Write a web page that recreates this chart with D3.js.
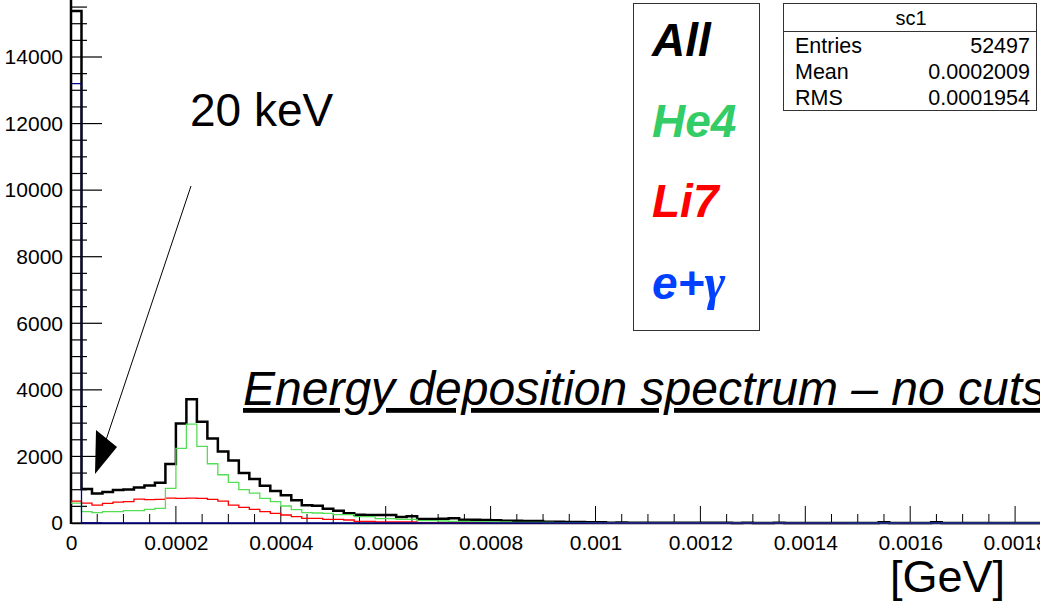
<!DOCTYPE html>
<html><head><meta charset="utf-8">
<script src="https://cdn.jsdelivr.net/npm/d3@7"></script>
<style>body{margin:0;background:#fff}svg{display:block}</style>
</head><body>
<svg id="c" width="1040" height="605"></svg>
<script>
// ---- data (bins of 0.00002 GeV from 0 to 0.002) ----
const binWidth = 0.00002;
const allCounts = [15380,1020,890,930,990,1010,1070,1130,1210,1770,
 2990,3720,3040,2540,2150,1880,1500,1320,1120,960,
 830,680,530,520,430,370,290,250,240,240,
 240,180,200,120,120,130,140,100,100,90,
 80,70,70,60,60,40,40,30,30,20,
 20,10,15,10,10,10,5,5,10,5,
 5,5,5,0,5,0,0,5,0,0,
 0,0,0,0,0,0,0,20,0,0,
 0,0,20,0,0,0,0,0,0,0,
 0,0,0,0,0,0,0,0,0,0];
const he4Counts = [600,340,310,340,340,370,370,410,440,1040,
 2240,2970,2300,1780,1450,1220,1000,900,740,640,
 510,400,310,300,290,250,250,190,190,130,
 130,110,110,70,70,60,50,50,40,40,
 30,30,20,20,20,15,10,10,10,10,
 5,5,5,5,5,5,5,5,5,5,
 5,5,5,5,5,5,5,5,5,5,
 5,5,5,5,0,0,0,0,0,5,
 0,0,0,0,0,0,0,0,0,0,
 0,0,0,0,0,0,0,0,0,0];
const li7Counts = [660,600,540,590,630,640,720,700,710,750,
 740,750,740,710,660,540,470,410,340,290,
 240,190,140,140,110,110,90,50,50,30,
 30,30,30,10,10,10,10,10,10,10,
 10,10,10,10,10,5,5,5,5,0,
 0,0,0,0,0,0,0,0,0,0,
 0,0,0,0,0,0,0,0,0,0,
 0,0,0,0,0,0,0,0,0,0,
 0,0,0,0,0,0,0,0,0,0,
 0,0,0,0,0,0,0,0,0,0];
const egCounts = [13200,0,0,0,0,0,0,0,0,0,
 0,0,0,0,0,0,0,0,0,0,
 0,0,0,0,0,0,0,0,0,0,
 0,0,0,0,0,0,0,0,0,0,
 0,0,0,0,0,0,0,0,0,0,
 0,0,0,0,0,0,0,0,0,0,
 0,0,0,0,0,0,0,0,0,0,
 0,0,0,0,0,0,0,0,0,0,
 0,0,0,0,0,0,0,0,0,0,
 0,0,0,0,0,0,0,0,0,0];
const xTickValues = [0,0.0002,0.0004,0.0006,0.0008,0.001,0.0012,0.0014,0.0016,0.0018];
const xTickLabels = ["0","0.0002","0.0004","0.0006","0.0008","0.001","0.0012","0.0014","0.0016","0.0018"];
const yTickValues = [0,2000,4000,6000,8000,10000,12000,14000,16000];
const legendLabels = ["All","He4","Li7","e+"];
const statsTitle = "sc1";
const statsRows = [["Entries","52497"],["Mean","0.0002009"],["RMS","0.0001954"]];

// ---- layout ----
const svg = d3.select("#c");
const x = d3.scaleLinear().domain([0,0.002]).range([71,1120]);
const y = d3.scaleLinear().domain([0,14000]).range([523,57]);
const font = "'Liberation Sans', Arial, sans-serif";

// x axis
const xAxis = d3.axisBottom(x).tickValues(xTickValues)
  .tickFormat((d,i)=>xTickLabels[i]).tickSize(0).tickPadding(7);
const gx = svg.append("g").attr("transform","translate(0,523)").call(xAxis);
gx.select(".domain").attr("stroke","#000").attr("stroke-width",1.5);
gx.selectAll("text").attr("font-family",font).attr("font-size",21).attr("fill","#000").attr("dy","0.95em");
const xMinor = d3.range(0,40).map(i=>i*0.00005);
svg.append("g").selectAll("line").data(xMinor).join("line")
  .attr("x1",d=>x(d)).attr("x2",d=>x(d))
  .attr("y1",523).attr("y2",(d,i)=> i%4===0 ? 506 : 514)
  .attr("stroke","#000").attr("stroke-width",1);

// y axis
const yAxis = d3.axisLeft(y).tickValues(yTickValues).tickSize(0).tickPadding(8).tickFormat(d3.format("d"));
const gy = svg.append("g").attr("transform","translate(71,0)").call(yAxis);
gy.select(".domain").remove();
gy.selectAll("text").attr("font-family",font).attr("font-size",21).attr("fill","#000");
svg.append("line").attr("x1",71).attr("x2",71).attr("y1",-5).attr("y2",524)
  .attr("stroke","#000").attr("stroke-width",2.5);
const yMinor = d3.range(0,33).map(i=>i*500);
svg.append("g").selectAll("line").data(yMinor).join("line")
  .attr("y1",d=>y(d)).attr("y2",d=>y(d))
  .attr("x1",71).attr("x2",(d,i)=> i%4===0 ? 102 : 87)
  .attr("stroke","#000").attr("stroke-width",1.2);

// histograms
function stepPath(counts){
  const pts = counts.map((v,i)=>[i*binWidth, v]);
  pts.push([counts.length*binWidth, counts[counts.length-1]]);
  return d3.line().x(d=>x(d[0])).y(d=>y(d[1])).curve(d3.curveStepAfter)(pts);
}
svg.append("path").attr("d",stepPath(allCounts)).attr("fill","none").attr("stroke","#000").attr("stroke-width",2.5);
svg.append("path").attr("d",stepPath(li7Counts)).attr("fill","none").attr("stroke","#ff0000").attr("stroke-width",1.3);
svg.append("path").attr("d",stepPath(he4Counts)).attr("fill","none").attr("stroke","#55dd55").attr("stroke-width",1.3);
svg.append("path").attr("d",stepPath(egCounts)).attr("fill","none").attr("stroke","#00008b").attr("stroke-width",1.3);

// annotation "20 keV" with arrow
svg.append("text").attr("x",190).attr("y",126).attr("font-family",font).attr("font-size",46).text("20 keV");
svg.append("line").attr("x1",191).attr("y1",186).attr("x2",106).attr("y2",440).attr("stroke","#000").attr("stroke-width",1);
svg.append("path").attr("d","M96,430 L117,447 L95,474 Z").attr("fill","#000");

// title
svg.append("text").attr("x",243).attr("y",405).attr("font-family",font).attr("font-size",48)
  .attr("font-style","italic").attr("text-decoration","underline").text("Energy deposition spectrum \u2013 no cuts");

// legend box
svg.append("rect").attr("x",633.5).attr("y",3.5).attr("width",126).attr("height",327).attr("fill","#fff").attr("stroke","#333").attr("stroke-width",1);
const legColors = ["#000000","#33cc66","#ff0000","#0040ff"];
const legY = [56,137,217,299];
legendLabels.forEach((t,i)=>{
  const tx = svg.append("text").attr("x",652).attr("y",legY[i]).attr("font-family",font)
   .attr("font-size",46).attr("font-weight","bold").attr("font-style","italic").attr("fill",legColors[i]).text(t);
  if(i===3) tx.append("tspan").attr("font-family","'Liberation Serif', serif").attr("font-size",50).attr("font-weight","bold").text("\u03b3");
});

// stats box
svg.append("rect").attr("x",783.5).attr("y",3.5).attr("width",253).attr("height",107).attr("fill","#fff").attr("stroke","#333").attr("stroke-width",1);
svg.append("line").attr("x1",783.5).attr("x2",1036.5).attr("y1",31.5).attr("y2",31.5).attr("stroke","#333");
svg.append("text").attr("x",911).attr("y",25).attr("text-anchor","middle").attr("font-family",font).attr("font-size",20).text(statsTitle);
statsRows.forEach((r,i)=>{
  svg.append("text").attr("x",795).attr("y",53+i*26).attr("font-family",font).attr("font-size",21.5).text(r[0]);
  svg.append("text").attr("x",1030).attr("y",53+i*26).attr("text-anchor","end").attr("font-family",font).attr("font-size",21.5).text(r[1]);
});

// axis title
svg.append("text").attr("x",1005).attr("y",592).attr("text-anchor","end").attr("font-family",font).attr("font-size",45).text("[GeV]");
</script>
</body></html>
